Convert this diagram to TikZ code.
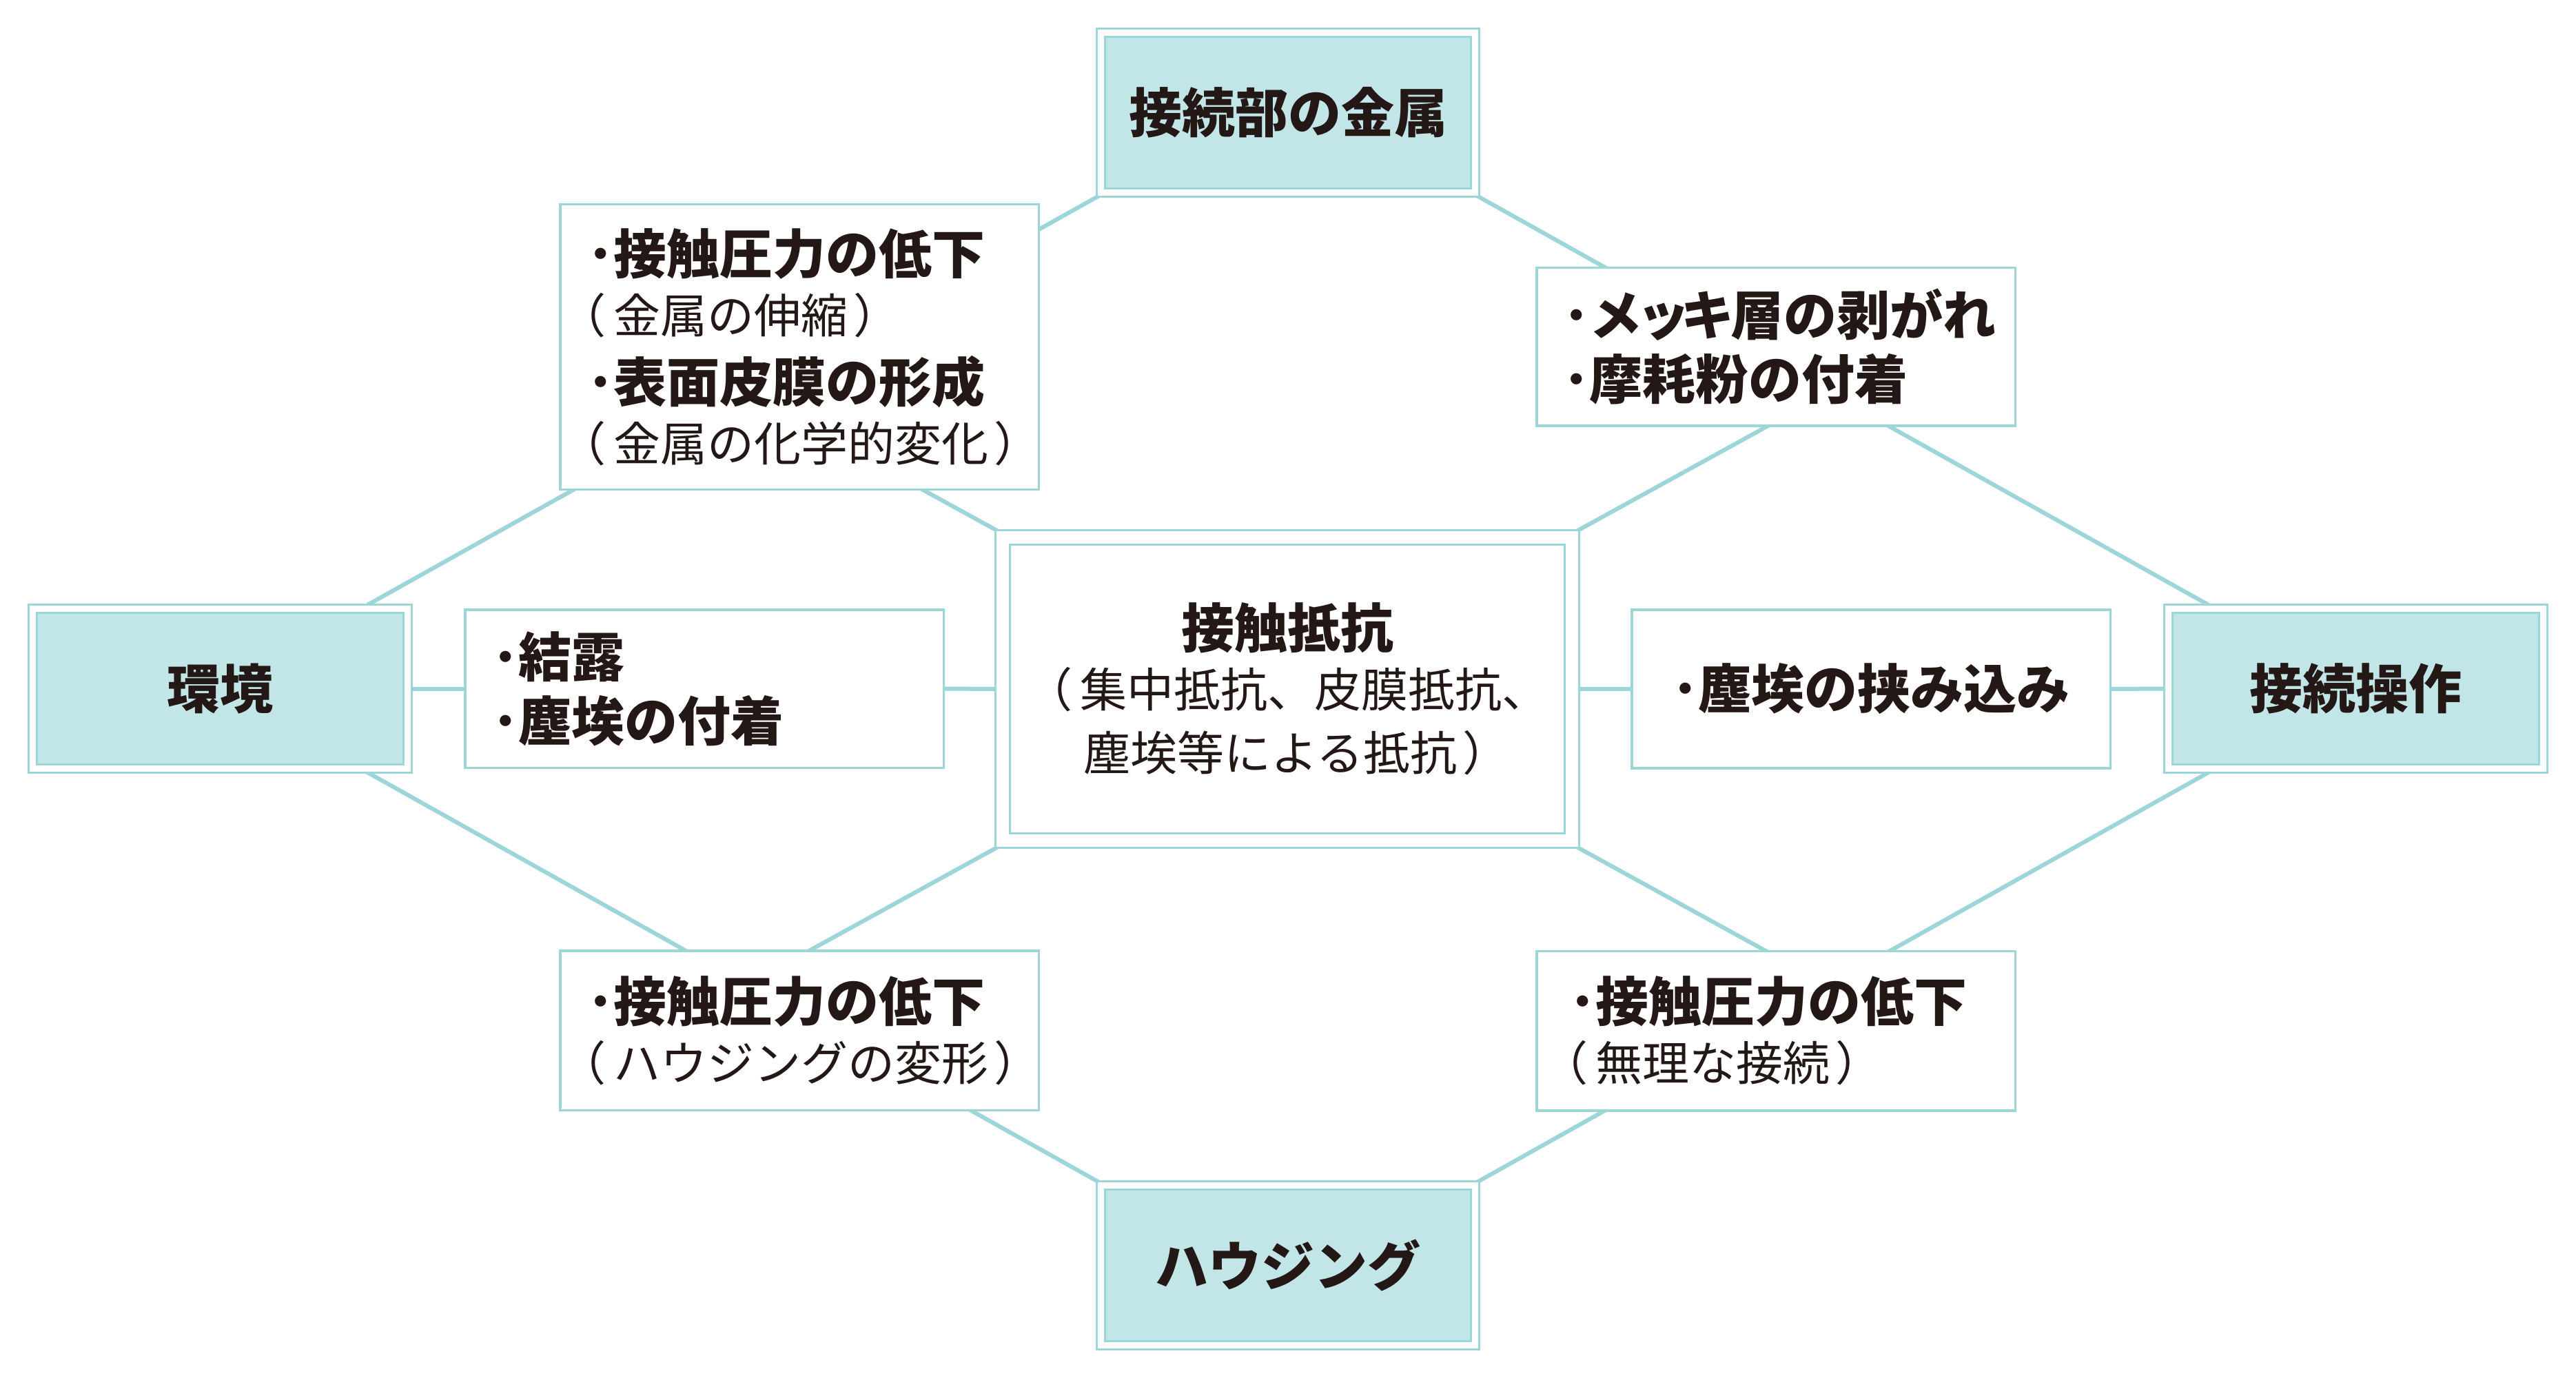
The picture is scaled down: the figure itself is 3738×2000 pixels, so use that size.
\documentclass[tikz,border=0pt]{standalone}
\usepackage{fontspec}
\setmainfont{Noto Sans CJK JP}
\usetikzlibrary{calc}
\definecolor{edge}{RGB}{157,214,217}
\definecolor{pfill}{RGB}{194,229,231}
\definecolor{ink}{RGB}{35,24,21}
\newcommand\fb{\bfseries\fontsize{38.5pt}{43pt}\selectfont}
\newcommand\fr{\mdseries\fontsize{34pt}{43pt}\selectfont}
\newcommand\lp{\leavevmode\kern-0.6em（\kern0.16em}
\newcommand\rp{\kern0.12em）}
\pgfdeclarelayer{bg}
\pgfsetlayers{bg,main}
\begin{document}
\begin{tikzpicture}[x=0.5pt,y=-0.5pt,
  prim/.style={draw=edge, fill=pfill, line width=1.5pt, double=white,
    double distance=4.5pt, minimum width=271.75pt, minimum height=116pt,
    inner sep=0pt, outer sep=3.75pt, font=\fb, text=ink},
  ctrbox/.style={draw=edge, fill=white, line width=1.5pt, double=white,
    double distance=9pt, minimum width=413pt, minimum height=220pt,
    inner sep=0pt, outer sep=6pt, align=center, font=\fb, text=ink},
  sec/.style={draw=edge, fill=white, line width=1.75pt,
    minimum width=347.25pt, inner ysep=0pt, text=ink, font=\fb},
  conn/.style={draw=edge, line width=3pt}
]
\useasboundingbox (0,0) rectangle (3738,2000);

% primary boxes
\node[prim] (metal) at (1869,163.5) {接続部の金属};
\node[prim] (env) at (319.5,999.5) {環境};
\node[prim] (op) at (3418.5,999.5) {接続操作};
\node[prim] (hous) at (1869,1836.5) {ハウジング};

% central box
\node[ctrbox] (ctr) at (1868,1000)
  {接触抵抗\\{\fr （\kern0.16em 集中抵抗、皮膜抵抗、}\\[3pt]{\fr\kern0.4em 塵埃等による抵抗\rp}};

% secondary boxes
\node[sec, minimum height=206.75pt, text width=308pt, inner xsep=19.6pt, align=left]
  (tl) at (1160,503.5)
  {･接触圧力の低下\\{\fr\lp 金属の伸縮\rp}\\[7pt]･表面皮膜の形成\\{\fr\lp 金属の化学的変化\rp}};
\node[sec, minimum height=114.75pt, text width=309pt, inner xsep=19.1pt, align=left]
  (tr) at (2577,503.5)
  {･メ\kern-0.1emッ\kern-0.18emキ\kern-0.06em 層の剥がれ\\[3.5pt]･摩耗粉の付着};
\node[sec, minimum height=114.75pt, text width=308pt, inner xsep=19.6pt, align=left]
  (ml) at (1022,999.5)
  {･結露\\[3.5pt]･塵埃の付着};
\node[sec, minimum height=115pt, text width=308pt, inner xsep=19.6pt, align=center]
  (mr) at (2715,1000)
  {･塵埃の挟み込み};
\node[sec, minimum height=115.75pt, text width=308pt, inner xsep=19.6pt, align=left]
  (bl) at (1160,1495.5)
  {･接触圧力の低下\\{\fr\lp ハウジングの変形\rp}};
\node[sec, minimum height=115.75pt, text width=300pt, inner xsep=23.6pt, align=left]
  (br) at (2577,1496)
  {･接触圧力の低下\\{\fr\lp 無理な接続\rp}};

\begin{pgfonlayer}{bg}
\fill[white] (0,0) rectangle (3738,2000);
\coordinate (envT) at ($(env.north east)+(-62,0)$);
\coordinate (envB) at ($(env.south east)+(-62,0)$);
\coordinate (opT) at ($(op.north west)+(62,0)$);
\coordinate (opB) at ($(op.south west)+(62,0)$);
\draw[conn] ($(envT)!-0.015!(metal.south west)$) -- ($(metal.south west)!-0.015!(envT)$);
\draw[conn] ($(opT)!-0.015!(metal.south east)$) -- ($(metal.south east)!-0.015!(opT)$);
\draw[conn] ($(opB)!-0.015!(hous.north east)$) -- ($(hous.north east)!-0.015!(opB)$);
\draw[conn] ($(envB)!-0.015!(hous.north west)$) -- ($(hous.north west)!-0.015!(envB)$);
\coordinate (c1) at ($(ctr.north west)+(-300,-165)$);
\coordinate (c2) at ($(ctr.north east)+(300,-165)$);
\coordinate (c3) at ($(ctr.south west)+(-300,165)$);
\coordinate (c4) at ($(ctr.south east)+(300,165)$);
\draw[conn] ($(ctr.north west)!-0.03!(c1)$) -- (c1);
\draw[conn] ($(ctr.north east)!-0.03!(c2)$) -- (c2);
\draw[conn] ($(ctr.south west)!-0.03!(c3)$) -- (c3);
\draw[conn] ($(ctr.south east)!-0.03!(c4)$) -- (c4);
\draw[conn] (env.east) -- (ml.west);
\draw[conn] (ml.east) -- (ctr.west);
\draw[conn] (ctr.east) -- (mr.west);
\draw[conn] (mr.east) -- (op.west);
\end{pgfonlayer}
\end{tikzpicture}
\end{document}
